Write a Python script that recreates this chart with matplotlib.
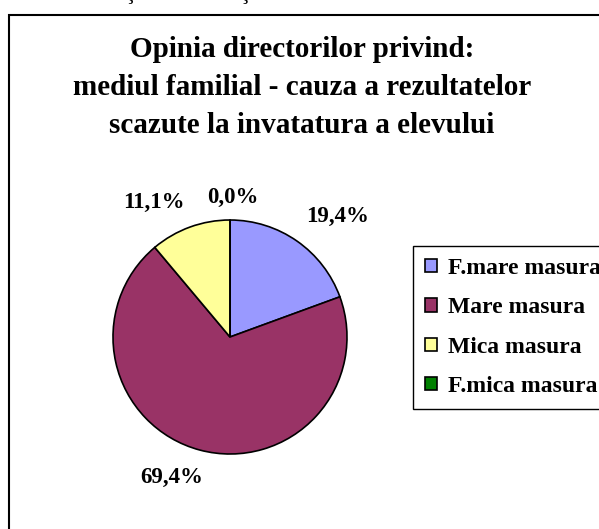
import matplotlib
matplotlib.use("Agg")
import matplotlib.pyplot as plt
from matplotlib.patches import Rectangle

# ---- data ----
categories = ["F.mare masura", "Mare masura", "Mica masura", "F.mica masura"]
values = [19.4, 69.4, 11.1, 0.0]
colors = ["#9999FF", "#993366", "#FFFF99", "#008000"]
title_lines = ["Opinia directorilor privind:",
               "mediul familial - cauza a rezultatelor",
               "scazute la invatatura a elevului"]
# label placement (layout, in pie-radius units)
label_xy = [(0.92, 1.03), (-0.50, -1.20), (-0.65, 1.15), (0.02, 1.19)]

W, H = 599, 529
fig = plt.figure(figsize=(W / 100, H / 100), dpi=100)
fig.patch.set_facecolor("white")
serif = ["Liberation Serif", "DejaVu Serif"]

# outer chart frame (cut off at right and bottom)
fig.add_artist(Rectangle((9 / W, -0.2), 2.0, 1 - 15 / H + 0.2,
                         transform=fig.transFigure, fill=False,
                         edgecolor="black", linewidth=1.5))

# fragments of a line above (only cedillas visible)
for xx, ch in [(130, "ş"), (245, "ţ")]:
    fig.text(xx / W, 1.0 + 1 / H, ch, ha="center", va="baseline",
             fontsize=16, family=serif, color="black")

# title
for line, yb in zip(title_lines, [57, 95, 133]):
    fig.text(302 / W, 1 - yb / H, line, ha="center", va="baseline",
             fontsize=21, fontweight="bold", family=serif, color="black")

# pie
cx, cy, R = 230, 337, 117
ax = fig.add_axes([(cx - R) / W, (H - cy - R) / H, 2 * R / W, 2 * R / H])
labels = [("%.1f%%" % v).replace(".", ",") for v in values]
wedges, texts = ax.pie(values, colors=colors, startangle=90, counterclock=False,
                       labels=labels, labeldistance=1.2,
                       wedgeprops=dict(edgecolor="black", linewidth=1.2))
for t, xy in zip(texts, label_xy):
    t.set_position(xy)
    t.set_ha("center")
    t.set_va("center")
    t.set_fontsize(16.5)
    t.set_fontweight("bold")
    t.set_family(serif)
    t.set_clip_on(False)
ax.set_xlim(-1, 1)
ax.set_ylim(-1, 1)
ax.set_aspect("auto")
ax.axis("off")

# legend
leg = fig.legend(wedges, categories, loc="upper left",
                 bbox_to_anchor=(413 / W, 1 - 246 / H),
                 bbox_transform=fig.transFigure,
                 frameon=True, fancybox=False, shadow=False,
                 borderaxespad=0, borderpad=0.5, labelspacing=0.78,
                 handlelength=0.5, handleheight=0.5, handletextpad=0.5,
                 prop=dict(family=serif, weight="bold", size=17))
fr = leg.get_frame()
fr.set_edgecolor("black")
fr.set_linewidth(1.0)
fr.set_facecolor("white")
fr.set_alpha(1)

fig.savefig("out.png", dpi=100)
